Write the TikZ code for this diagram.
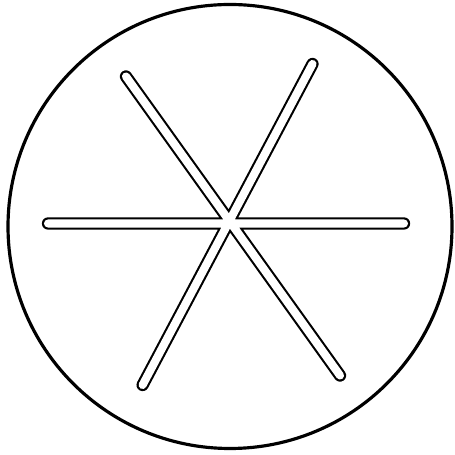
\documentclass[tikz,border=0pt]{standalone}
\usepackage{tikz}

\begin{document}
\begin{tikzpicture}[x=0.02cm,y=0.02cm]
\useasboundingbox (0,0) rectangle (455,455);
\coordinate (O) at (230,228.5);
\coordinate (L) at (48,231.5); \coordinate (R) at (404,231.5);
\coordinate (UL) at (126,378.5); \coordinate (LR) at (340,79.5);
\coordinate (UR) at (312.5,391); \coordinate (LL) at (142.6,70);
\draw[line width=1.8pt] (O) circle (222);
\draw[line width=7pt,line cap=round] (L)--(R) (UL)--(LR) (UR)--(LL);
\draw[white,line width=4.6pt,line cap=round] (L)--(R) (UL)--(LR) (UR)--(LL);
\end{tikzpicture}
\end{document}
